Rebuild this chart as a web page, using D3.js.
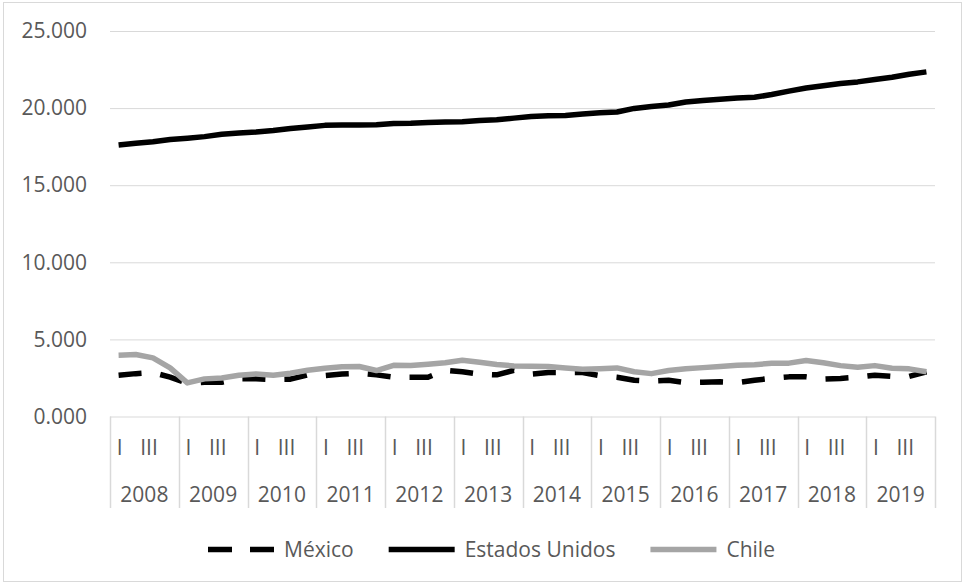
<!DOCTYPE html>
<html>
<head>
<meta charset="utf-8">
<script src="https://cdn.jsdelivr.net/npm/d3@7"></script>
<style>
  html, body { margin: 0; padding: 0; background: #fff; }
  svg { display: block; }
  text { font-family: "Open Sans", "Noto Sans", sans-serif; fill: #595959; }
</style>
</head>
<body>
<svg id="chart" width="964" height="584"></svg>
<script>
const years = ["2008","2009","2010","2011","2012","2013","2014","2015","2016","2017","2018","2019"];
const quarters = ["I","II","III","IV"];
const quarterLabels = ["I","","III",""];
const yTicks = [0, 5, 10, 15, 20, 25];

const mexico = [2.68, 2.78, 2.85, 2.55, 2.15, 2.22, 2.22, 2.45, 2.45, 2.4, 2.42, 2.7,
  2.65, 2.75, 2.8, 2.7, 2.55, 2.55, 2.55, 3.0, 2.9, 2.75, 2.7, 3.0,
  2.75, 2.85, 2.85, 2.85, 2.65, 2.55, 2.35, 2.3, 2.35, 2.2, 2.22, 2.25,
  2.2, 2.35, 2.48, 2.57, 2.57, 2.42, 2.47, 2.55, 2.68, 2.6, 2.6, 2.9];
const eeuu = [17.6, 17.72, 17.82, 17.97, 18.05, 18.15, 18.3, 18.38, 18.45, 18.55, 18.68, 18.78,
  18.88, 18.9, 18.9, 18.92, 19.0, 19.02, 19.07, 19.1, 19.12, 19.2, 19.25, 19.35,
  19.45, 19.5, 19.52, 19.62, 19.7, 19.75, 19.98, 20.1, 20.2, 20.4, 20.5, 20.58,
  20.65, 20.7, 20.88, 21.1, 21.3, 21.45, 21.6, 21.7, 21.85, 22.0, 22.2, 22.35];
const chile = [3.98, 4.02, 3.8, 3.15, 2.18, 2.44, 2.5, 2.67, 2.76, 2.67, 2.8, 3.0,
  3.13, 3.22, 3.24, 2.98, 3.32, 3.3, 3.39, 3.48, 3.65, 3.52, 3.37, 3.28,
  3.26, 3.24, 3.15, 3.07, 3.1, 3.15, 2.9, 2.78, 2.98, 3.09, 3.17, 3.24,
  3.32, 3.35, 3.46, 3.46, 3.63, 3.48, 3.3, 3.19, 3.3, 3.13, 3.09, 2.9];

const seriesNames = ["México", "Estados Unidos", "Chile"];

const svg = d3.select("#chart");
const plot = { left: 110, right: 935, top: 31, bottom: 416.5 };
const FS = "21px";

// outer border
svg.append("rect").attr("x", 3.5).attr("y", 2.5).attr("width", 958).attr("height", 579)
  .attr("fill", "none").attr("stroke", "#D9D9D9").attr("stroke-width", 1);

const cats = [];
years.forEach(y => quarters.forEach(q => cats.push(y + "-" + q)));

const x = d3.scaleBand().domain(cats).range([plot.left, plot.right]).padding(0);
const xYear = d3.scaleBand().domain(years).range([plot.left, plot.right]).padding(0);
const y = d3.scaleLinear().domain([0, 25]).range([plot.bottom, plot.top]);
const fmt = d3.format(".3f");

// gridlines + y labels
const yAxis = d3.axisLeft(y).tickValues(yTicks).tickSize(-(plot.right - plot.left)).tickPadding(23).tickFormat(fmt);
const gy = svg.append("g").attr("transform", `translate(${plot.left},0)`).call(yAxis);
gy.select(".domain").remove();
gy.selectAll(".tick line").attr("stroke", "#D9D9D9").attr("stroke-width", 1);
gy.selectAll(".tick text").style("font-size", FS).attr("fill", "#595959")
  .style("font-family", '"Open Sans", sans-serif');

// category axis box: vertical separators
const axisBottom = 508;
const sepX = years.map(yr => xYear(yr)).concat([plot.right]);
svg.append("g").selectAll("line").data(sepX).join("line")
  .attr("x1", d => Math.round(d) + 0.5).attr("x2", d => Math.round(d) + 0.5)
  .attr("y1", plot.bottom).attr("y2", axisBottom)
  .attr("stroke", "#D9D9D9").attr("stroke-width", 1.5);

// quarter labels
const qg = svg.append("g");
cats.forEach((c, i) => {
  const lbl = quarterLabels[i % 4];
  if (!lbl) return;
  qg.append("text")
    .attr("x", x(c) + x.bandwidth() / 2 + (lbl === "III" ? -4 : 1))
    .attr("y", 448).attr("dy", "0.35em").attr("text-anchor", "middle")
    .style("font-size", FS).text(lbl);
});
// year labels
svg.append("g").selectAll("text").data(years).join("text")
  .attr("x", d => xYear(d) + xYear.bandwidth() / 2)
  .attr("y", 495).attr("dy", "0.35em").attr("text-anchor", "middle")
  .style("font-size", FS).text(d => d);

// lines
const line = d3.line().x((d, i) => x(cats[i]) + x.bandwidth() / 2).y(d => y(d));
const styles = [
  { data: mexico, color: "#000000", dash: "23,19", width: 5.5 },
  { data: eeuu, color: "#000000", dash: null, width: 5.5 },
  { data: chile, color: "#A5A5A5", dash: null, width: 5.5 }
];
styles.forEach(s => {
  svg.append("path").datum(s.data).attr("d", line)
    .attr("fill", "none").attr("stroke", s.color).attr("stroke-width", s.width)
    .attr("stroke-linejoin", "round").attr("stroke-linecap", "butt")
    .attr("stroke-dasharray", s.dash);
});

// legend
const lg = svg.append("g");
let lx = 208;
const ly = 549.5;
seriesNames.forEach((name, i) => {
  const s = styles[i];
  lg.append("line").attr("x1", lx).attr("x2", lx + 66).attr("y1", ly).attr("y2", ly)
    .attr("stroke", s.color).attr("stroke-width", s.width)
    .attr("stroke-dasharray", s.dash ? "24,18" : null);
  const t = lg.append("text").attr("x", lx + 76).attr("y", ly).attr("dy", "0.35em")
    .style("font-size", FS).text(name);
  const w = t.node().getComputedTextLength();
  lx = lx + 76 + w + 35;
});
</script>
</body>
</html>
